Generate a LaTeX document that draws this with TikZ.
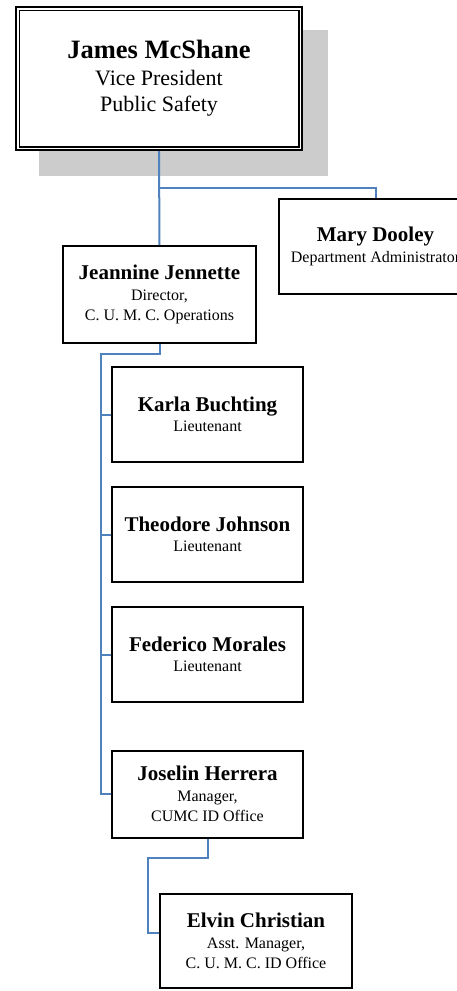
\documentclass[tikz,border=0pt]{standalone}
\usepackage{fontspec}
\setmainfont{Liberation Serif}
\newcommand{\nominativo}[2]{{\fontsize{#1}{#1}\selectfont\bfseries #2}}

\begin{document}
\begin{tikzpicture}[
  x=1pt, y=-1pt,
  casella/.style={draw=black, line width=2pt, fill=white, align=center,
                  inner sep=2pt, font=\fontsize{16}{20.5}\selectfont},
  vertice/.style={draw=black, line width=2.6pt, fill=white, align=center,
                  inner sep=2pt, font=\fontsize{22}{26.5}\selectfont},
  ombra/.style={fill=black!20},
  collegamento/.style={draw=blueline, line width=2pt}
]
\definecolor{blueline}{RGB}{79,129,189}

\useasboundingbox (0,0) rectangle (457,991);

%--------------------------------------------------------------
% Vertice: ombra grigia e casella a doppio bordo
%--------------------------------------------------------------
\fill[ombra] (39,30) rectangle (328,176);
\node[vertice, minimum width=286pt, minimum height=143pt] (vp) at (159,78.5)
  {\nominativo{26.5}{James McShane}\\ Vice President\\ Public Safety};
\draw[line width=1.4pt]
  ([shift={(4.5pt,-4.5pt)}]vp.north west) rectangle
  ([shift={(-4.5pt,4.5pt)}]vp.south east);

%--------------------------------------------------------------
% Primo livello
%--------------------------------------------------------------
\node[casella, minimum width=193pt, minimum height=95pt] (mary) at (375.5,246.5)
  {\nominativo{21}{Mary Dooley}\\ Department Administrator};
\node[casella, minimum width=193pt, minimum height=97pt] (jeannine) at (159.5,294.5)
  {\nominativo{21}{Jeannine Jennette}\\ Director,\\ C. U. M. C. Operations};

%--------------------------------------------------------------
% Tenenti e ufficio ID
%--------------------------------------------------------------
\foreach \id/\testo/\y in {karla/Karla Buchting/414.5,
                           theodore/Theodore Johnson/534.5,
                           federico/Federico Morales/654.5}
  \node[casella, minimum width=191pt, minimum height=95pt] (\id) at (207.5,\y)
    {\nominativo{21}{\testo}\\ Lieutenant};

\node[casella, minimum width=191pt, minimum height=87pt] (joselin) at (207.5,794)
  {\nominativo{21}{Joselin Herrera}\\ Manager,\\ CUMC ID Office};
\node[casella, minimum width=192pt, minimum height=94pt] (elvin) at (256,941)
  {\nominativo{21}{Elvin Christian}\\ Asst. Manager,\\ C. U. M. C. ID Office};

%--------------------------------------------------------------
% Collegamenti
%--------------------------------------------------------------
\coordinate (snodo) at (101,354);
\coordinate (snodoid) at (148,858);

\draw[collegamento] (vp.south) -- (jeannine.north);
\draw[collegamento] (vp.south) -- ++(0,37) -| (mary.north);
\draw[collegamento] (jeannine.south) |- (snodo) |- (joselin.west);
\foreach \id in {karla, theodore, federico}
  \draw[collegamento] (snodo |- \id.west) -- (\id.west);
\draw[collegamento] (joselin.south) |- (snodoid) |- ([yshift=8pt]elvin.west);

\end{tikzpicture}
\end{document}
